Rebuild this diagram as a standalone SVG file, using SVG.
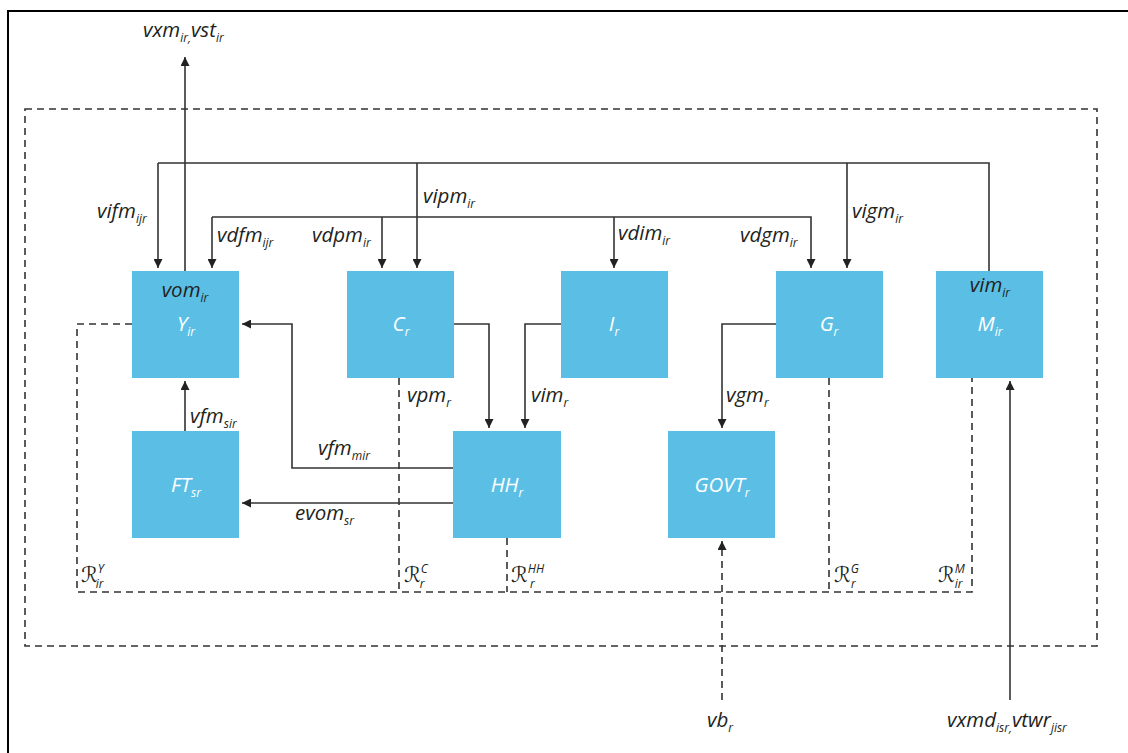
<svg xmlns="http://www.w3.org/2000/svg" width="1128" height="753" viewBox="0 0 1128 753">
<defs>
<style>
.lbl{font-family:'Open Sans','Liberation Sans',sans-serif;font-style:italic;font-size:20.5px;fill:#231f20}
.wl{fill:#ffffff}
.sub{font-size:12px}
.sup{font-size:12px}
.rl{font-family:'DejaVu Serif','DejaVu Sans',serif;font-style:italic;font-size:21px;fill:#231f20}
.rl tspan{font-family:'Open Sans','Liberation Sans',sans-serif}
.box{fill:#5bbfe5}
.ln{fill:none;stroke:#333;stroke-width:1.6}
.dash{fill:none;stroke:#333;stroke-width:1.6;stroke-dasharray:7 5}
.frame{fill:none;stroke:#000;stroke-width:2}
</style>
<marker id="ah" viewBox="0 0 10 10" refX="10" refY="5" markerWidth="9" markerHeight="9" markerUnits="userSpaceOnUse" orient="auto">
<path d="M0,0 L10,5 L0,10 z" fill="#222"/>
</marker>
</defs>
<rect width="1128" height="753" fill="#fff"/>
<path class="frame" d="M8,753 V11 H1128"/>

<g id="boundaries">
<rect class="dash" x="25" y="109" width="1072" height="537"/>
<path class="dash" d="M132,324 H77 V592 H972 V378"/>
<path class="dash" d="M399,378 V592"/>
<path class="dash" d="M507,538 V592"/>
<path class="dash" d="M829,378 V592"/>
</g>

<g id="connectors">
<path class="ln" d="M158,163 H989 V271"/>
<path class="ln" d="M158,163 V268" marker-end="url(#ah)"/>
<path class="ln" d="M185,271 V57" marker-end="url(#ah)"/>
<path class="ln" d="M212,217 H811 V268" marker-end="url(#ah)"/>
<path class="ln" d="M212,217 V268" marker-end="url(#ah)"/>
<path class="ln" d="M382,217 V268" marker-end="url(#ah)"/>
<path class="ln" d="M417,163 V268" marker-end="url(#ah)"/>
<path class="ln" d="M614,217 V268" marker-end="url(#ah)"/>
<path class="ln" d="M847,163 V268" marker-end="url(#ah)"/>
<path class="ln" d="M454,324 H489 V428" marker-end="url(#ah)"/>
<path class="ln" d="M561,324 H525 V428" marker-end="url(#ah)"/>
<path class="ln" d="M776,324 H722 V428" marker-end="url(#ah)"/>
<path class="ln" d="M453,468 H292 V324 H242" marker-end="url(#ah)"/>
<path class="ln" d="M453,503 H242" marker-end="url(#ah)"/>
<path class="ln" d="M185,431 V381" marker-end="url(#ah)"/>
<path class="dash" d="M722,700 V541" marker-end="url(#ah)"/>
<path class="ln" d="M1010,700 V381" marker-end="url(#ah)"/>
</g>

<g id="node-Y">
<rect class="box" x="132" y="271" width="107" height="107"/>
<text class="lbl" x="185" y="297" text-anchor="middle">vom<tspan class="sub" dy="5">ir</tspan></text>
<text class="lbl wl" x="186" y="331" text-anchor="middle">Y<tspan class="sub" dy="5">ir</tspan></text>
</g>
<g id="node-C">
<rect class="box" x="347" y="271" width="107" height="107"/>
<text class="lbl wl" x="401" y="331" text-anchor="middle">C<tspan class="sub" dy="5">r</tspan></text>
</g>
<g id="node-I">
<rect class="box" x="561" y="271" width="107" height="107"/>
<text class="lbl wl" x="614" y="331" text-anchor="middle">I<tspan class="sub" dy="5">r</tspan></text>
</g>
<g id="node-G">
<rect class="box" x="776" y="271" width="107" height="107"/>
<text class="lbl wl" x="829" y="331" text-anchor="middle">G<tspan class="sub" dy="5">r</tspan></text>
</g>
<g id="node-M">
<rect class="box" x="936" y="271" width="107" height="107"/>
<text class="lbl" x="990" y="292" text-anchor="middle">vim<tspan class="sub" dy="5">ir</tspan></text>
<text class="lbl wl" x="990" y="331" text-anchor="middle">M<tspan class="sub" dy="5">ir</tspan></text>
</g>
<g id="node-FT">
<rect class="box" x="132" y="431" width="107" height="107"/>
<text class="lbl wl" x="186" y="492" text-anchor="middle">FT<tspan class="sub" dy="5">sr</tspan></text>
</g>
<g id="node-HH">
<rect class="box" x="453" y="431" width="108" height="107"/>
<text class="lbl wl" x="507" y="492" text-anchor="middle">HH<tspan class="sub" dy="5">r</tspan></text>
</g>
<g id="node-GOVT">
<rect class="box" x="668" y="431" width="107" height="107"/>
<text class="lbl wl" x="722" y="492" text-anchor="middle">GOVT<tspan class="sub" dy="5">r</tspan></text>
</g>

<g id="labels">
<text class="lbl" x="143" y="37">vxm<tspan class="sub" dy="5">ir,</tspan><tspan dy="-5">vst</tspan><tspan class="sub" dy="5">ir</tspan></text>
<text class="lbl" x="97" y="218">vifm<tspan class="sub" dy="5">ijr</tspan></text>
<text class="lbl" x="217" y="242">vdfm<tspan class="sub" dy="5">ijr</tspan></text>
<text class="lbl" x="312" y="242">vdpm<tspan class="sub" dy="5">ir</tspan></text>
<text class="lbl" x="423" y="203">vipm<tspan class="sub" dy="5">ir</tspan></text>
<text class="lbl" x="618" y="240">vdim<tspan class="sub" dy="5">ir</tspan></text>
<text class="lbl" x="740" y="242">vdgm<tspan class="sub" dy="5">ir</tspan></text>
<text class="lbl" x="852" y="218">vigm<tspan class="sub" dy="5">ir</tspan></text>
<text class="lbl" x="190" y="423">vfm<tspan class="sub" dy="5">sir</tspan></text>
<text class="lbl" x="318" y="455">vfm<tspan class="sub" dy="5">mir</tspan></text>
<text class="lbl" x="295" y="520">evom<tspan class="sub" dy="5">sr</tspan></text>
<text class="lbl" x="407" y="402">vpm<tspan class="sub" dy="5">r</tspan></text>
<text class="lbl" x="531" y="402">vim<tspan class="sub" dy="5">r</tspan></text>
<text class="lbl" x="726" y="402">vgm<tspan class="sub" dy="5">r</tspan></text>
<text class="lbl" x="707" y="727">vb<tspan class="sub" dy="5">r</tspan></text>
<text class="lbl" x="947" y="727">vxmd<tspan class="sub" dy="5">isr,</tspan><tspan dy="-5">vtwr</tspan><tspan class="sub" dy="5">jisr</tspan></text>
<text class="rl" x="81" y="582">ℛ<tspan class="sup" dy="-9">Y</tspan><tspan class="sub" dx="-8" dy="15">ir</tspan></text>
<text class="rl" x="404" y="582">ℛ<tspan class="sup" dy="-9">C</tspan><tspan class="sub" dx="-8" dy="15">r</tspan></text>
<text class="rl" x="511" y="582">ℛ<tspan class="sup" dy="-9">HH</tspan><tspan class="sub" dx="-14" dy="15">r</tspan></text>
<text class="rl" x="834" y="582">ℛ<tspan class="sup" dy="-9">G</tspan><tspan class="sub" dx="-8" dy="15">r</tspan></text>
<text class="rl" x="938" y="582">ℛ<tspan class="sup" dy="-9">M</tspan><tspan class="sub" dx="-10" dy="15">ir</tspan></text>
</g>
</svg>
